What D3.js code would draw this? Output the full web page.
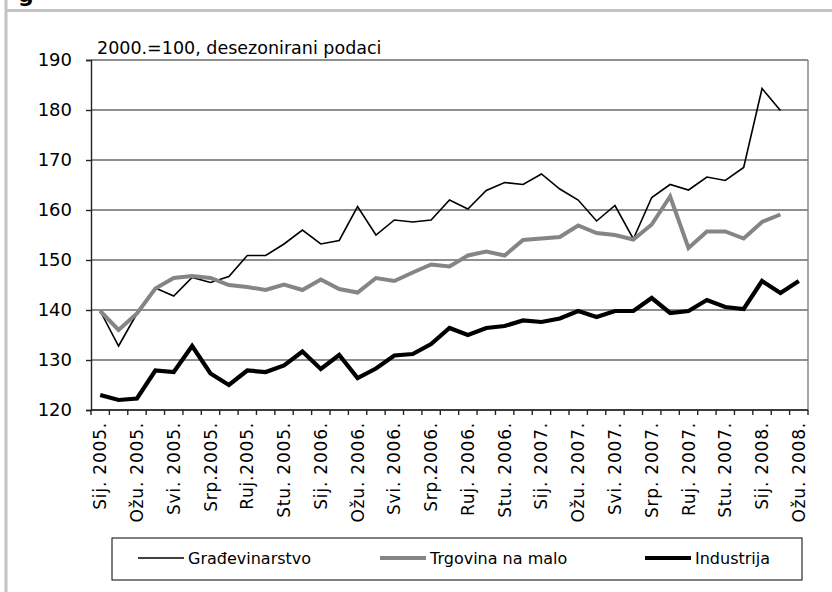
<!DOCTYPE html>
<html>
<head>
<meta charset="utf-8">
<script src="https://cdn.jsdelivr.net/npm/d3@7"></script>
<style>
  body { margin: 0; background: #fff; }
  text { font-family: "DejaVu Sans", sans-serif; fill: #000; }
</style>
</head>
<body>
<div id="chart"></div>
<script>
// months Jan 2005 - Mar 2008, labels on every other month
let months = ['Sij. 2005.', 'Velj. 2005.', 'Ožu. 2005.', 'Tra. 2005.', 'Svi. 2005.', 'Lip. 2005.',
  'Srp.2005.', 'Kol. 2005.', 'Ruj.2005.', 'Lis. 2005.', 'Stu. 2005.', 'Pro. 2005.',
  'Sij. 2006.', 'Velj. 2006.', 'Ožu. 2006.', 'Tra. 2006.', 'Svi. 2006.', 'Lip. 2006.',
  'Srp.2006.', 'Kol. 2006.', 'Ruj. 2006.', 'Lis. 2006.', 'Stu. 2006.', 'Pro. 2006.',
  'Sij. 2007.', 'Velj. 2007.', 'Ožu. 2007.', 'Tra. 2007.', 'Svi. 2007.', 'Lip. 2007.',
  'Srp. 2007.', 'Kol. 2007.', 'Ruj. 2007.', 'Lis. 2007.', 'Stu. 2007.', 'Pro. 2007.',
  'Sij. 2008.', 'Velj. 2008.', 'Ožu. 2008.']

let gradevinarstvo = [139.8, 132.8, 139.3, 144.4, 142.8, 146.5, 145.5, 146.7, 150.9, 150.9,
  153.2, 156.0, 153.2, 153.9, 160.7, 155.0, 158.0, 157.6, 158.0, 162.0,
  160.2, 163.9, 165.5, 165.1, 167.2, 164.2, 162.0, 157.8, 160.9, 154.2,
  162.5, 165.1, 164.0, 166.6, 165.9, 168.5, 184.3, 179.9]

let trgovina = [139.8, 136.0, 139.3, 144.3, 146.4, 146.8, 146.4, 145.0, 144.6, 144.0,
  145.1, 144.0, 146.1, 144.2, 143.5, 146.4, 145.8, 147.5, 149.1, 148.7,
  150.9, 151.7, 150.9, 154.0, 154.3, 154.6, 156.9, 155.4, 155.0, 154.1,
  157.1, 162.7, 152.4, 155.7, 155.7, 154.3, 157.6, 159.1]

let industrija = [123.0, 122.0, 122.3, 127.9, 127.6, 132.8, 127.3, 125.0, 127.9, 127.6,
  128.9, 131.7, 128.2, 131.0, 126.4, 128.3, 130.9, 131.2, 133.2, 136.4,
  135.0, 136.4, 136.8, 137.9, 137.6, 138.3, 139.8, 138.6, 139.8, 139.8,
  142.4, 139.4, 139.8, 142.0, 140.6, 140.2, 145.8, 143.4, 145.8]

let yTicks = [120, 130, 140, 150, 160, 170, 180, 190]

let series = [
  { name: 'Građevinarstvo', values: gradevinarstvo, color: '#000', width: 1.6 },
  { name: 'Trgovina na malo', values: trgovina, color: '#858585', width: 4 },
  { name: 'Industrija', values: industrija, color: '#000', width: 4.2 }
]

let svg = d3.select('#chart')
  .append('svg')
    .attr('width', 832)
    .attr('height', 592)

// outer frame pieces (cropped from a larger document)
svg.append('line')
  .attr('x1', 6).attr('x2', 832).attr('y1', 10.5).attr('y2', 10.5)
  .attr('stroke', '#c4c4c4').attr('stroke-width', 3)
svg.append('line')
  .attr('x1', 6).attr('x2', 6).attr('y1', 0).attr('y2', 592)
  .attr('stroke', '#c4c4c4').attr('stroke-width', 3)
svg.append('text')
  .attr('x', 18).attr('y', 2)
  .attr('font-size', 22).attr('font-weight', 'bold')
  .text('g')

let plotLeft = 91, plotRight = 808, plotTop = 60, plotBottom = 410

let x = d3.scaleBand()
  .domain(months)
  .range([plotLeft, plotRight])

let y = d3.scaleLinear()
  .domain([120, 190])
  .range([plotBottom, plotTop])

// gridlines
svg.append('g')
  .selectAll('line')
  .data(yTicks)
  .enter()
  .append('line')
    .attr('x1', plotLeft).attr('x2', plotRight)
    .attr('y1', d => y(d)).attr('y2', d => y(d))
    .attr('stroke', '#6a6a6a').attr('stroke-width', 1.4)

// right border of plot area
svg.append('line')
  .attr('x1', plotRight).attr('x2', plotRight).attr('y1', plotTop).attr('y2', plotBottom)
  .attr('stroke', '#808080').attr('stroke-width', 1.4)

// y axis
let yAxis = svg.append('g')
  .attr('transform', `translate(${plotLeft},0)`)
  .call(d3.axisLeft(y).tickValues(yTicks).tickSize(5).tickPadding(14))
yAxis.select('.domain').attr('stroke', '#222').attr('stroke-width', 1.4)
yAxis.selectAll('line').attr('stroke', '#222').attr('stroke-width', 1.4)
yAxis.selectAll('text')
  .attr('font-size', 18)
  .attr('font-family', '"DejaVu Sans", sans-serif')
  .attr('fill', '#000')

// x axis ticks at category boundaries
let boundaries = months.map(m => x(m)).concat([plotRight])
let xg = svg.append('g')
xg.append('line')
  .attr('x1', plotLeft).attr('x2', plotRight).attr('y1', plotBottom).attr('y2', plotBottom)
  .attr('stroke', '#222').attr('stroke-width', 1.4)
xg.selectAll('.tick')
  .data(boundaries)
  .enter()
  .append('line')
    .attr('x1', d => d).attr('x2', d => d)
    .attr('y1', plotBottom).attr('y2', plotBottom + 5)
    .attr('stroke', '#222').attr('stroke-width', 1.4)

xg.selectAll('.lbl')
  .data(months.filter((m, i) => i % 2 === 0))
  .enter()
  .append('text')
    .attr('transform', d => `translate(${x(d) + x.bandwidth() / 2 + 6},${plotBottom + 12}) rotate(-90)`)
    .attr('text-anchor', 'end')
    .attr('font-size', 17)
    .attr('letter-spacing', 0.8)
    .text(d => d)

// subtitle
svg.append('text')
  .attr('x', 97).attr('y', 54)
  .attr('font-size', 17.5)
  .text('2000.=100, desezonirani podaci')

// lines
let line = d3.line()
  .x((d, i) => x(months[i]) + x.bandwidth() / 2)
  .y(d => y(d))

svg.append('g')
  .selectAll('path')
  .data(series)
  .enter()
  .append('path')
    .attr('d', d => line(d.values))
    .attr('fill', 'none')
    .attr('stroke', d => d.color)
    .attr('stroke-width', d => d.width)
    .attr('stroke-linejoin', 'miter')

// legend
svg.append('rect')
  .attr('x', 112).attr('y', 538)
  .attr('width', 690).attr('height', 42)
  .attr('fill', '#fff').attr('stroke', '#000').attr('stroke-width', 1)

let legendX = [138, 380, 645]
let legend = svg.append('g')
  .selectAll('g')
  .data(series)
  .enter()
  .append('g')
    .attr('transform', (d, i) => `translate(${legendX[i]},558)`)

legend.append('line')
  .attr('x1', 0).attr('x2', 46)
  .attr('stroke', d => d.color)
  .attr('stroke-width', d => d.width)
legend.append('text')
  .attr('x', 50).attr('y', 6)
  .attr('font-size', 16)
  .text(d => d.name)
</script>
</body>
</html>
